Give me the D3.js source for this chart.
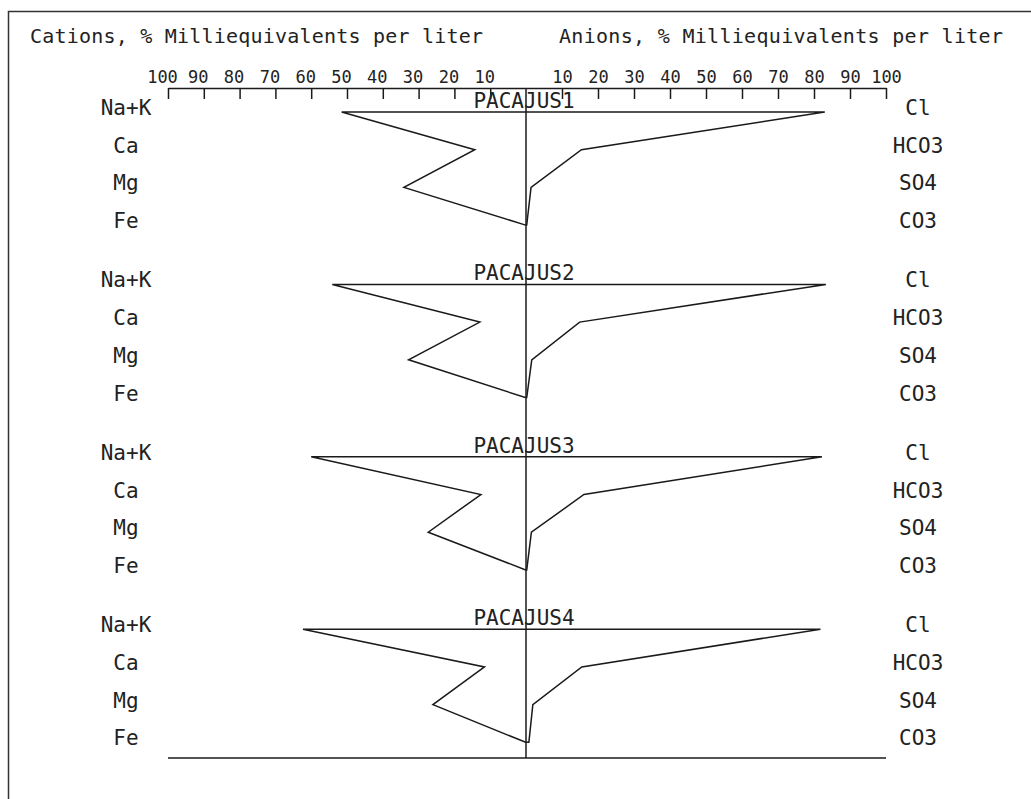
<!DOCTYPE html>
<html>
<head>
<meta charset="utf-8">
<script src="https://cdn.jsdelivr.net/npm/d3@7"></script>
<style>
  html, body { margin: 0; padding: 0; background: #fff; }
  svg { display: block; }
  text { font-family: "DejaVu Sans Mono", "Liberation Mono", monospace; fill: #222; }
</style>
</head>
<body>
<svg id="chart" width="1031" height="799"></svg>
<script>
// Stiff diagram: percent milliequivalents per liter, cations left, anions right
const samples = ["PACAJUS1", "PACAJUS2", "PACAJUS3", "PACAJUS4"];
const cations = ["Na+K", "Ca", "Mg", "Fe"];
const anions = ["Cl", "HCO3", "SO4", "CO3"];

// % meq/L per sample, in the order of the ion lists above
const cationValues = [
  [51.5, 14.3, 34.1, 0.1],
  [54.1, 12.9, 32.8, 0.2],
  [60.0, 12.6, 27.3, 0.1],
  [62.3, 11.6, 26.0, 0.1]
];
const anionValues = [
  [83.0, 15.4, 1.4, 0.2],
  [83.3, 14.9, 1.6, 0.2],
  [82.2, 16.1, 1.5, 0.2],
  [81.8, 15.5, 1.9, 0.8]
];

const tickValues = [10, 20, 30, 40, 50, 60, 70, 80, 90, 100];
const cationTitle = "Cations, % Milliequivalents per liter";
const anionTitle = "Anions, % Milliequivalents per liter";

const svg = d3.select("#chart");
const ink = "#1a1a1a";

// outer frame (left and top edges visible)
svg.append("path")
  .attr("d", "M8.5,820V11.5H1040")
  .attr("fill", "none").attr("stroke", "#333").attr("stroke-width", 1.5);

const xLeft = d3.scaleLinear().domain([0, 100]).range([526, 168]);
const xRight = d3.scaleLinear().domain([0, 100]).range([526, 886]);

const axisY = 88;
const panelStart = 112, panelStep = 172.4, rowStep = 37.7;
const rowY = (s, r) => panelStart + s * panelStep + r * rowStep;
const bottomY = 758;

// headers
svg.append("text").attr("x", 30).attr("y", 43)
  .attr("font-size", 20).attr("textLength", 453).attr("lengthAdjust", "spacing")
  .text(cationTitle);
svg.append("text").attr("x", 559).attr("y", 43)
  .attr("font-size", 20).attr("textLength", 444).attr("lengthAdjust", "spacing")
  .text(anionTitle);

// scale axes across the top, ticks hanging downward
function drawAxis(scale, dx) {
  const g = svg.append("g").attr("transform", `translate(0,${axisY})`)
    .call(d3.axisTop(scale).tickValues(tickValues).tickSize(-11).tickSizeOuter(0)
      .tickPadding(5).tickFormat(d3.format("d")));
  g.select(".domain").attr("stroke", ink).attr("stroke-width", 1.5);
  g.selectAll(".tick line").attr("stroke", ink).attr("stroke-width", 1.5);
  g.selectAll(".tick text")
    .attr("font-size", 17)
    .attr("font-family", "\"DejaVu Sans Mono\", monospace")
    .attr("fill", "#222")
    .attr("dx", dx);
}
drawAxis(xLeft, -6);
drawAxis(xRight, 0);

// centre line and base line
svg.append("line")
  .attr("x1", xLeft(0)).attr("x2", xLeft(0))
  .attr("y1", axisY).attr("y2", bottomY)
  .attr("stroke", ink).attr("stroke-width", 1.5);
svg.append("line")
  .attr("x1", xLeft(100)).attr("x2", xRight(100))
  .attr("y1", bottomY).attr("y2", bottomY)
  .attr("stroke", ink).attr("stroke-width", 1.5);

const line = d3.line().x(d => d[0]).y(d => d[1]);

samples.forEach((name, s) => {
  // closed Stiff polygon: cation side top to bottom, anion side bottom to top
  const pts = [];
  cations.forEach((c, r) => pts.push([xLeft(cationValues[s][r]), rowY(s, r)]));
  for (let r = anions.length - 1; r >= 0; r--) {
    pts.push([xRight(anionValues[s][r]), rowY(s, r)]);
  }
  svg.append("path")
    .attr("d", line(pts) + "Z")
    .attr("fill", "none")
    .attr("stroke", ink)
    .attr("stroke-width", 1.5)
    .attr("stroke-linejoin", "miter");

  svg.append("text")
    .attr("x", xLeft(0) - 2).attr("y", rowY(s, 0) - 4)
    .attr("text-anchor", "middle").attr("font-size", 21)
    .text(name);

  cations.forEach((c, r) => {
    svg.append("text")
      .attr("x", 126).attr("y", rowY(s, r) + 3)
      .attr("text-anchor", "middle").attr("font-size", 21)
      .text(c);
  });
  anions.forEach((a, r) => {
    svg.append("text")
      .attr("x", 918).attr("y", rowY(s, r) + 3)
      .attr("text-anchor", "middle").attr("font-size", 21)
      .text(a);
  });
});
</script>
</body>
</html>
